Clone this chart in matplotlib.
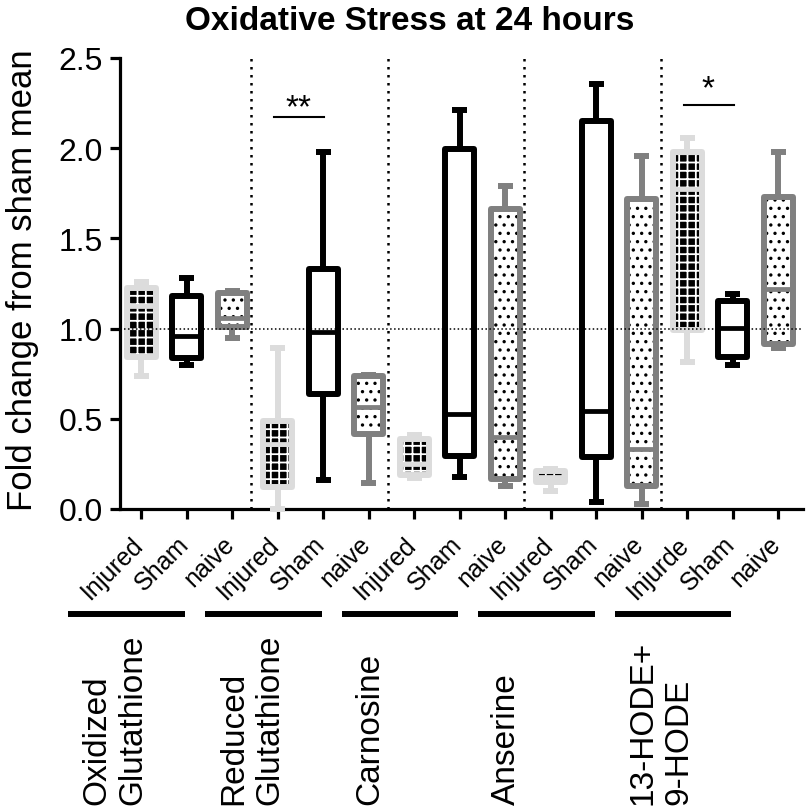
import matplotlib
matplotlib.use('Agg')
import matplotlib.pyplot as plt
import matplotlib.transforms as mtransforms
from matplotlib.patches import PathPatch

plt.rcParams['font.family'] = ['Liberation Sans', 'DejaVu Sans']

# ---------------- data ----------------
title = 'Oxidative Stress at 24 hours'
ylabel = 'Fold change from sham mean'
groups = ['Oxidized\nGlutathione', 'Reduced\nGlutathione', 'Carnosine', 'Anserine', '13-HODE+\n9-HODE']
tick_labels = ['Injured', 'Sham', 'naive', 'Injured', 'Sham', 'naive', 'Injured', 'Sham', 'naive',
               'Injured', 'Sham', 'naive', 'Injurde', 'Sham', 'naive']
conditions = ['Injured', 'Sham', 'naive'] * 5

whislo = [0.74, 0.80, 0.948, 0.00, 0.163, 0.144, 0.17, 0.176, 0.13, 0.10, 0.037, 0.028, 0.813, 0.798, 0.89]
q1     = [0.84, 0.835, 1.009, 0.12, 0.637, 0.416, 0.19, 0.296, 0.166, 0.15, 0.287, 0.13, 0.994, 0.84, 0.915]
med    = [1.127, 0.96, 1.057, 0.36, 0.98, 0.564, 0.25, 0.527, 0.397, 0.18, 0.545, 0.333, 1.774, 1.005, 1.22]
q3     = [1.225, 1.18, 1.199, 0.49, 1.33, 0.739, 0.39, 1.996, 1.663, 0.21, 2.153, 1.718, 1.977, 1.155, 1.728]
whishi = [1.257, 1.28, 1.21, 0.89, 1.977, 0.745, 0.41, 2.214, 1.792, 0.22, 2.356, 1.959, 2.055, 1.192, 1.977]

sig_pairs = [(3, 4), (12, 13)]
sig_heights = [2.173, 2.24]
sig_text_heights = [2.175, 2.285]
sig_labels = ['**', '*']
ref_value = 1.0

# ---------------- styles ----------------
styles = {
    'Injured': dict(edge='#dcdcdc', face='black', hatch='++', hatchcolor='white', hlw=1.3),
    'Sham': dict(edge='black', face='white', hatch=None, hatchcolor='white', hlw=1.0),
    'naive': dict(edge='#808080', face='white', hatch='..', hatchcolor='black', hlw=1.2),
}

fig = plt.figure(figsize=(8.12, 8.12), dpi=100)
ax = fig.add_axes([120 / 812, 1 - 510 / 812, 683 / 812, 451 / 812])

positions = list(range(len(tick_labels)))
LW = 4.3

for cond in ['Injured', 'Sham', 'naive']:
    st = styles[cond]
    idx = [i for i, c in enumerate(conditions) if c == cond]
    stats = [dict(whislo=whislo[i], q1=q1[i], med=med[i], q3=q3[i], whishi=whishi[i], fliers=[]) for i in idx]
    bp = ax.bxp(stats, positions=[positions[i] for i in idx], widths=0.64, capwidths=0.33,
                patch_artist=True, showfliers=False, manage_ticks=False,
                boxprops=dict(facecolor='none', edgecolor=st['edge'], linewidth=LW, joinstyle='round'),
                medianprops=dict(color=st['edge'], linewidth=LW * 0.8, solid_capstyle='butt'),
                whiskerprops=dict(color=st['edge'], linewidth=LW, solid_capstyle='butt'),
                capprops=dict(color=st['edge'], linewidth=LW, solid_capstyle='butt'))
    for key in ['boxes', 'medians', 'whiskers', 'caps']:
        for a in bp[key]:
            a.set_clip_on(False)
            a.set_zorder(5)
    for b in bp['boxes']:
        with plt.rc_context({'hatch.linewidth': st['hlw']}):
            fill = PathPatch(b.get_path(), facecolor=st['face'], edgecolor=st['hatchcolor'],
                             linewidth=0, hatch=st['hatch'], zorder=4, clip_on=False)
        ax.add_patch(fill)

# reference + separators
ax.axhline(ref_value, color='black', lw=1.1, ls=(0, (1, 1.6)), zorder=8)
seps = [3 * g + 2.42 for g in range(len(groups) - 1)]
ax.vlines(seps, 0, 2.5, colors='black', lw=1.8, linestyles=(0, (1, 2.2)), zorder=1)

# significance
for (a, b), h, th, lab in zip(sig_pairs, sig_heights, sig_text_heights, sig_labels):
    ax.plot([a - 0.08, b + 0.02], [h, h], color='black', lw=1.5, clip_on=False, zorder=6)
    ax.text((a + b) / 2 - 0.05, th, lab, ha='center', va='baseline', fontsize=24, clip_on=False)

# axes
ax.set_xlim(-0.468, 14.54)
ax.set_ylim(0, 2.5)
ax.set_yticks([0, 0.5, 1.0, 1.5, 2.0, 2.5])
ax.set_yticklabels(['0.0', '0.5', '1.0', '1.5', '2.0', '2.5'], fontsize=23)
ax.set_xticks(positions)
ax.set_xticklabels(tick_labels, fontsize=18, rotation=45, ha='right', va='center', rotation_mode='anchor')
ax.tick_params(axis='both', direction='out', length=7.5, width=2.3, color='black')
ax.tick_params(axis='x', pad=15)
ax.tick_params(axis='y', pad=5)
for lbl in ax.get_xticklabels():
    lbl.set_transform(lbl.get_transform() + mtransforms.ScaledTranslation(-2 / 100, 0, fig.dpi_scale_trans))
for s in ['top', 'right']:
    ax.spines[s].set_visible(False)
for s in ['left', 'bottom']:
    ax.spines[s].set_linewidth(2.3)
    ax.spines[s].set_zorder(3)

ax.set_ylabel(ylabel, fontsize=25)
ax.yaxis.set_label_coords(-0.118, 0.51)

# group bars and labels
blend = mtransforms.blended_transform_factory(ax.transData, ax.transAxes)
for g, name in enumerate(groups):
    p0 = 3 * g
    ax.plot([p0 - 1.6, p0 + 0.96], [-0.233, -0.233], transform=blend, color='black', lw=4.3,
            solid_capstyle='butt', clip_on=False)
    ax.text(p0 - 1.31, -0.655, name, transform=blend, rotation=90, ha='left', va='bottom',
            multialignment='left', fontsize=24, linespacing=1.2)

fig.text(410 / 812, 1 - 6 / 812, title, ha='center', va='top', fontsize=24, fontweight='bold')

fig.savefig('out.png', dpi=100)
